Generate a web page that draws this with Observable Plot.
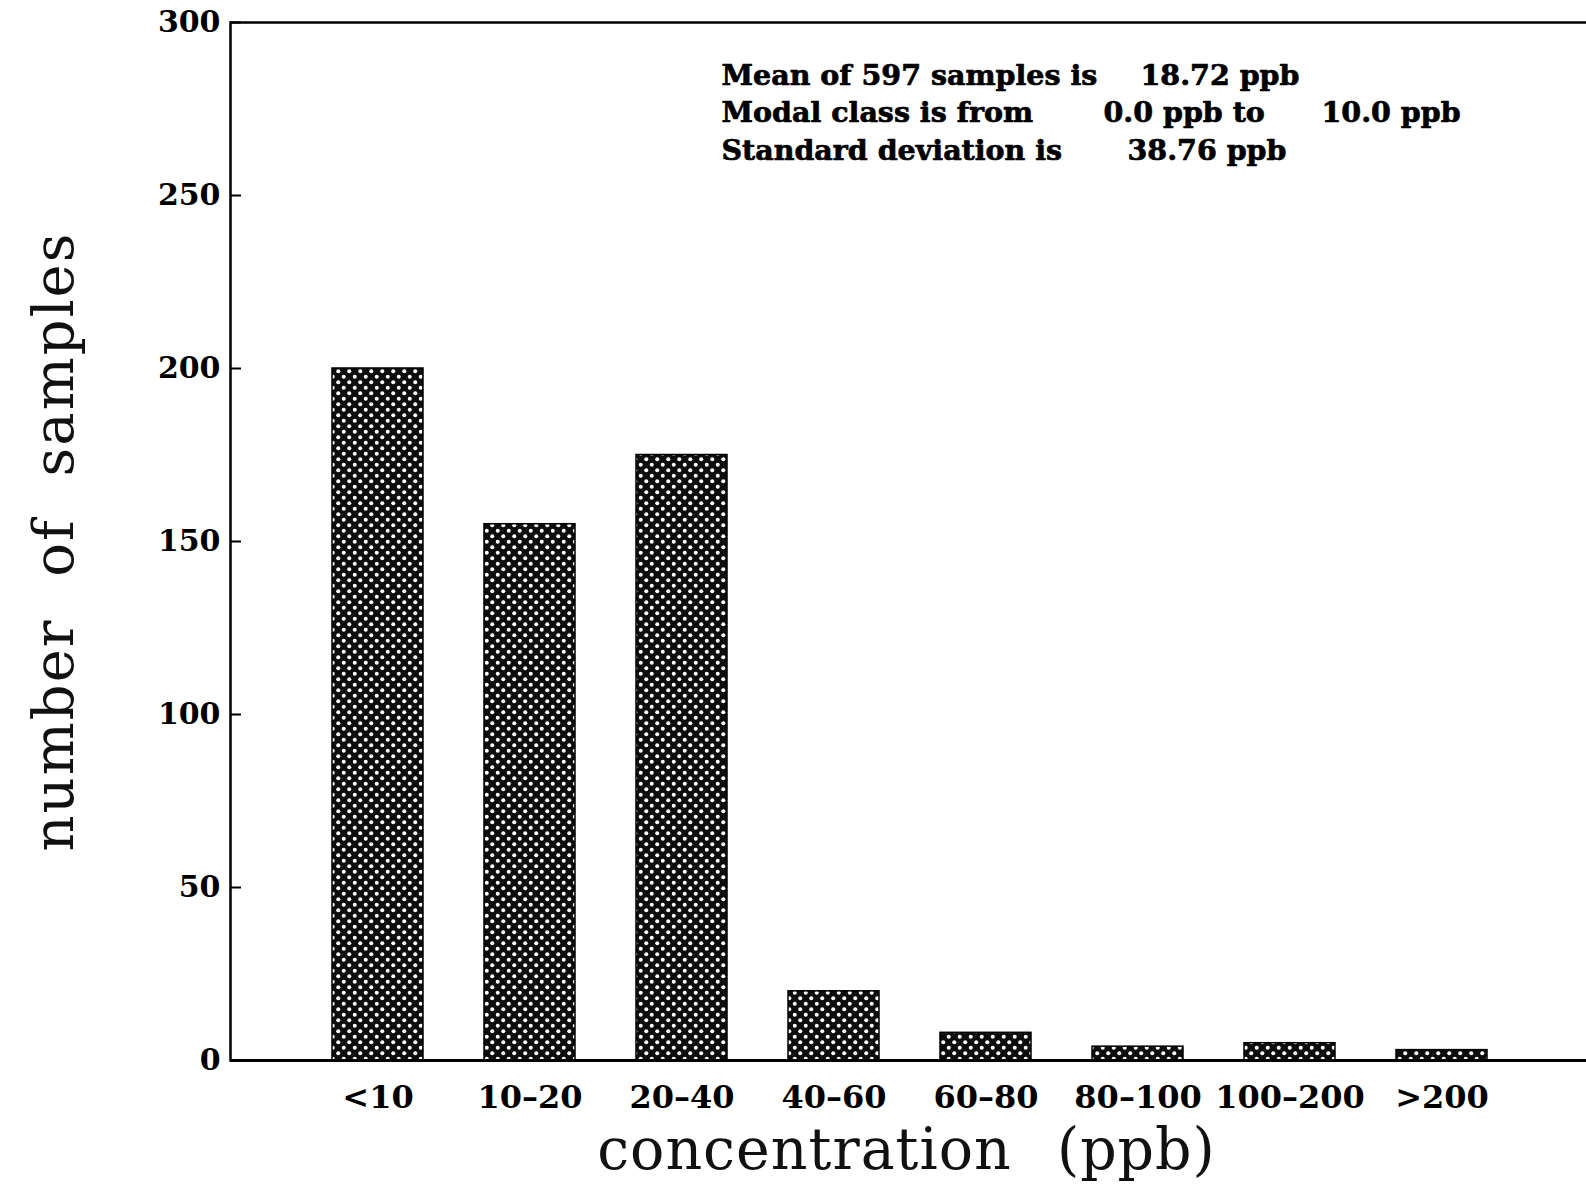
<!DOCTYPE html>
<html><head><meta charset="utf-8">
<script src="https://cdn.jsdelivr.net/npm/d3@7"></script>
<script src="https://cdn.jsdelivr.net/npm/@observablehq/plot@0.6"></script>
<style>html,body{margin:0;padding:0;background:#fff;overflow:hidden}</style>
</head><body><div id="chart"></div>
<script>
// ---- data ----
const categories = ["<10", "10–20", "20–40", "40–60", "60–80", "80–100", "100–200", ">200"];
const counts = [200, 155, 175, 20, 8, 4, 5, 3];
const yTicks = [0, 50, 100, 150, 200, 250, 300];
const statsLabels = ["Mean of 597 samples is", "Modal class is from", "Standard deviation is"];
const meanText = "18.72 ppb";
const modalFrom = "0.0 ppb to";
const modalTo = "10.0 ppb";
const sdText = "38.76 ppb";
const xTitle = "concentration (ppb)";
const yTitle = "number of samples";

const data = categories.map((c, i) => ({category: c, count: counts[i]}));
const serif = "'DejaVu Serif', 'Liberation Serif', serif";
const statStyle = {frameAnchor: "top-left", textAnchor: "start", lineAnchor: "middle",
  fontSize: 28.5, fontWeight: "bold", fontFamily: serif, fill: "#000", stroke: "#000", strokeWidth: 0.7, text: d => d};

const chart = Plot.plot({
  width: 1586, height: 1186,
  marginLeft: 230, marginRight: -4, marginTop: 22, marginBottom: 126,
  style: {fontFamily: serif, background: "#fff", color: "#000"},
  x: {type: "band", domain: categories, paddingInner: 0.4, paddingOuter: 0.66, label: null},
  y: {domain: [0, 300], label: null},
  marks: [
    Plot.barY(data, {x: "category", y: "count", fill: "url(#crosshatch)", stroke: "#000", strokeWidth: 1.5}),
    Plot.frame({stroke: "#000", strokeWidth: 2.5}),
    Plot.ruleY([0], {stroke: "#000", strokeWidth: 3}),
    Plot.axisY({ticks: yTicks, tickSize: 0, tickPadding: 10, fontSize: 30, fontWeight: "bold", label: null}),
    Plot.axisY({ticks: yTicks, tickSize: 11, dx: 11, tickFormat: () => "", label: null, strokeWidth: 2}),
    Plot.axisX({tickSize: 0, tickPadding: 25, fontSize: 32, fontWeight: "bold", label: null}),
    Plot.text([xTitle], {frameAnchor: "bottom", textAnchor: "middle", text: d => d, dx: -4, dy: 90, lineAnchor: "middle", fontSize: 57, fontFamily: serif, fill: "#111"}),
    Plot.text([yTitle], {frameAnchor: "left", textAnchor: "middle", text: d => d, rotate: -90, dx: -175, lineAnchor: "middle", fontSize: 56, fontFamily: serif, fill: "#111"}),
    Plot.text([statsLabels[0]], {...statStyle, dx: 491, dy: 53}),
    Plot.text([statsLabels[1]], {...statStyle, dx: 491, dy: 90}),
    Plot.text([statsLabels[2]], {...statStyle, dx: 491, dy: 128}),
    Plot.text([meanText], {...statStyle, dx: 910, dy: 53}),
    Plot.text([modalFrom], {...statStyle, dx: 873, dy: 90}),
    Plot.text([modalTo], {...statStyle, dx: 1091, dy: 90}),
    Plot.text([sdText], {...statStyle, dx: 897, dy: 128})
  ]
});

const svg = chart.tagName.toLowerCase() === "svg" ? chart : chart.querySelector("svg");
const defs = document.createElementNS("http://www.w3.org/2000/svg", "defs");
defs.innerHTML = '<pattern id="crosshatch" patternUnits="userSpaceOnUse" width="11" height="11">' +
  '<rect width="11" height="11" fill="#0d0d0d"/>' +
  '<circle cx="2.75" cy="2.75" r="2" fill="#fff"/>' +
  '<circle cx="8.25" cy="8.25" r="2" fill="#fff"/></pattern>';
svg.insertBefore(defs, svg.firstChild);
svg.querySelectorAll("text").forEach(t => {
  if (t.textContent === yTitle) { t.style.wordSpacing = "22px"; t.style.letterSpacing = "2px"; }
  if (t.textContent === xTitle) { t.style.wordSpacing = "26px"; t.style.letterSpacing = "1px"; }
});
document.getElementById("chart").appendChild(chart);
</script>
</body></html>
